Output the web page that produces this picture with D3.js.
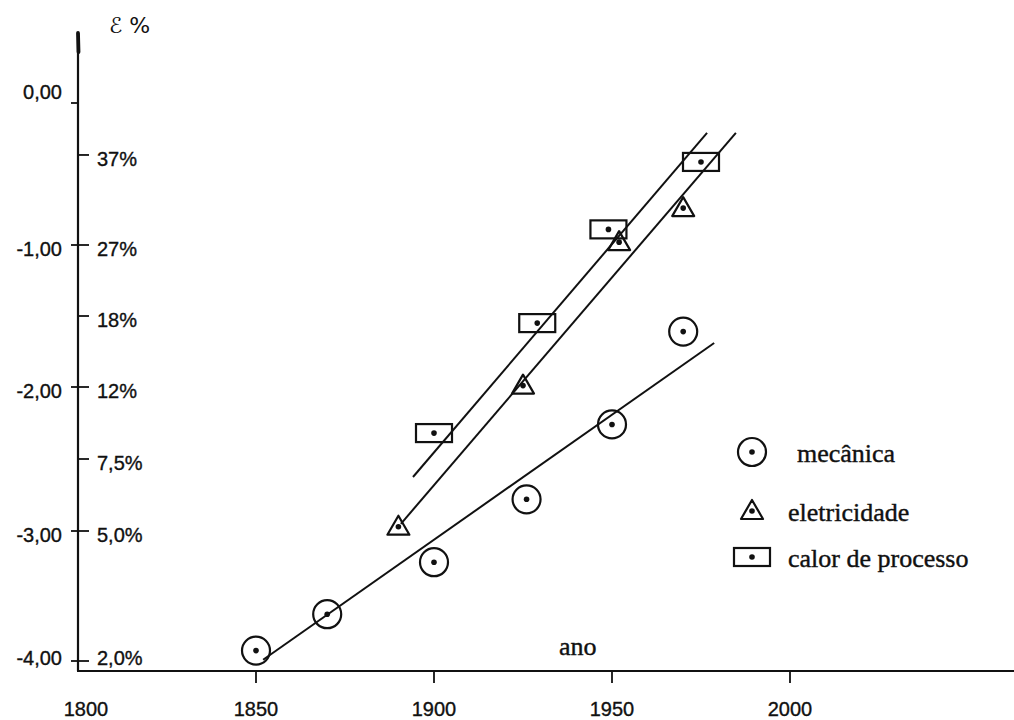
<!DOCTYPE html>
<html>
<head>
<meta charset="utf-8">
<script src="https://cdn.jsdelivr.net/npm/d3@7"></script>
<style>
  body { margin: 0; background: #fff; }
  .tick-label { font-family: "Liberation Sans", Arial, sans-serif; font-size: 20px; fill: #111; stroke: #111; stroke-width: 0.35px; }
  .serif { font-family: "Liberation Serif", "Times New Roman", serif; font-size: 26px; fill: #111; stroke: #111; stroke-width: 0.4px; }
</style>
</head>
<body>
<div id="my_dataviz"></div>
<script>
// data (y = ln of efficiency, x = year)
const mecYears = [1850, 1870, 1900, 1926, 1950, 1970];
const mecValues = [-3.92, -3.64, -3.24, -2.78, -2.26, -1.61];
const eleYears = [1890, 1925, 1952, 1970];
const eleValues = [-2.97, -1.99, -0.98, -0.74];
const calYears = [1900, 1929, 1949, 1975];
const calValues = [-2.32, -1.55, -0.89, -0.415];

// fitted lines, start and end points
const mecFit = [[1852, -3.99], [1978.7, -1.69]];
const eleFit = [[1890.7, -2.95], [1984.8, -0.21]];
const calFit = [[1894.1, -2.625], [1976.7, -0.21]];

const xTicks = [1850, 1900, 1950, 2000];
const logTicks = [0, -1, -2, -3, -4];
const logLabels = ["0,00", "-1,00", "-2,00", "-3,00", "-4,00"];
const pctTicks = [-0.366, -1, -1.5, -2, -2.5, -3, -4];
const pctLabels = ["37%", "27%", "18%", "12%", "7,5%", "5,0%", "2,0%"];

const legendNames = ["mecânica", "eletricidade", "calor de processo"];

const width = 1014;
const height = 720;

const svg = d3.select("#my_dataviz").append("svg")
  .attr("width", width)
  .attr("height", height);

// scales (the hand-drawn axis is not quite even, so piecewise)
const xScale = d3.scaleLinear()
  .domain([1800, 2000])
  .range([78, 790]);
const yScale = d3.scaleLinear()
  .domain([0, -1, -2, -3, -4])
  .range([103, 245, 387, 531, 661]);

const x0 = xScale(1800);
const yBase = 671;

// label baseline sits a little under the tick, but stays above the x axis
function labelY(v) { return Math.min(yScale(v) + 11, 665); }

// axes
svg.append("line")
  .attr("x1", x0).attr("x2", x0)
  .attr("y1", 34).attr("y2", yBase)
  .attr("stroke", "#111").attr("stroke-width", 2.2);
svg.append("line")
  .attr("x1", x0).attr("x2", x0 + 0.5)
  .attr("y1", 33).attr("y2", 52)
  .attr("stroke", "#111").attr("stroke-width", 3.8)
  .attr("stroke-linecap", "round");
svg.append("line")
  .attr("x1", x0 - 1).attr("x2", width)
  .attr("y1", yBase).attr("y2", yBase)
  .attr("stroke", "#111").attr("stroke-width", 2.2);

// x ticks
const xAxisGroup = svg.append("g");
xAxisGroup.selectAll("line")
  .data(xTicks).enter().append("line")
  .attr("x1", function(d) { return xScale(d) })
  .attr("x2", function(d) { return xScale(d) })
  .attr("y1", yBase).attr("y2", yBase + 12)
  .attr("stroke", "#111").attr("stroke-width", 1.8);
xAxisGroup.selectAll("text")
  .data([1800].concat(xTicks)).enter().append("text")
  .attr("class", "tick-label")
  .attr("x", function(d) { return d == 1800 ? xScale(d) + 8 : xScale(d) })
  .attr("y", 716)
  .attr("text-anchor", "middle")
  .text(function(d) { return d; });

// left (ln) ticks
const yAxisGroup = svg.append("g");
yAxisGroup.selectAll("line")
  .data(logTicks).enter().append("line")
  .attr("x1", x0 - 7).attr("x2", x0)
  .attr("y1", function(d) { return yScale(d) })
  .attr("y2", function(d) { return yScale(d) })
  .attr("stroke", "#111").attr("stroke-width", 1.8);
yAxisGroup.selectAll("text")
  .data(logTicks).enter().append("text")
  .attr("class", "tick-label")
  .attr("x", 62)
  .attr("y", function(d, i) { return i == 0 ? yScale(d) - 4 : labelY(d) })
  .attr("text-anchor", "end")
  .text(function(d, i) { return logLabels[i]; });

// right (percent) ticks
const pctGroup = svg.append("g");
pctGroup.selectAll("line")
  .data(pctTicks).enter().append("line")
  .attr("x1", x0).attr("x2", x0 + 11)
  .attr("y1", function(d) { return yScale(d) })
  .attr("y2", function(d) { return yScale(d) })
  .attr("stroke", "#111").attr("stroke-width", 1.8);
pctGroup.selectAll("text")
  .data(pctTicks).enter().append("text")
  .attr("class", "tick-label")
  .attr("x", 97)
  .attr("y", function(d) { return labelY(d) })
  .text(function(d, i) { return pctLabels[i]; });

// axis titles
svg.append("text")
  .attr("x", 109).attr("y", 33)
  .style("font-family", "'DejaVu Sans', sans-serif")
  .style("font-size", "22px")
  .style("fill", "#111")
  .text("ℰ %");
svg.append("text")
  .attr("class", "serif")
  .attr("x", 559).attr("y", 655)
  .text("ano");

// fitted lines
const line = d3.line()
  .x(function(d) { return xScale(d[0]) })
  .y(function(d) { return yScale(d[1]) });
[mecFit, eleFit, calFit].forEach(function(fit) {
  svg.append("path")
    .attr("d", line(fit))
    .attr("fill", "none")
    .attr("stroke", "#111")
    .attr("stroke-width", 2);
});

// marker drawers
function drawCircle(g) {
  g.append("circle").attr("r", 14)
    .attr("fill", "none").attr("stroke", "#111").attr("stroke-width", 2.2);
}
function drawTriangle(g) {
  g.append("path").attr("d", "M0,-11 L11,8 L-11,8 Z")
    .attr("fill", "none").attr("stroke", "#111").attr("stroke-width", 2.2)
    .attr("stroke-linejoin", "round");
}
function drawRect(g) {
  g.append("rect").attr("x", -18).attr("y", -9)
    .attr("width", 36).attr("height", 18)
    .attr("fill", "none").attr("stroke", "#111").attr("stroke-width", 2.2);
}
const drawers = [drawCircle, drawTriangle, drawRect];

function plotSeries(years, values, draw) {
  const pts = years.map(function(y, i) { return {year: y, value: values[i]}; });
  const groups = svg.append("g").selectAll("g")
    .data(pts).enter().append("g")
    .attr("transform", function(d) { return "translate(" + xScale(d.year) + "," + yScale(d.value) + ")" });
  groups.each(function() { draw(d3.select(this)); });
  groups.append("circle").attr("r", 2.8).attr("fill", "#111");
}
plotSeries(mecYears, mecValues, drawCircle);
plotSeries(eleYears, eleValues, drawTriangle);
plotSeries(calYears, calValues, drawRect);

// legend
const legendY = [452, 511, 557];
const legendTextX = [797, 788, 788];
const legend = svg.append("g");
legendNames.forEach(function(name, i) {
  const g = legend.append("g").attr("transform", "translate(752," + legendY[i] + ")");
  drawers[i](g);
  g.append("circle").attr("r", 2.8).attr("fill", "#111");
  legend.append("text")
    .attr("class", "serif")
    .attr("x", legendTextX[i])
    .attr("y", legendY[i] + 10)
    .text(name);
});
</script>
</body>
</html>
